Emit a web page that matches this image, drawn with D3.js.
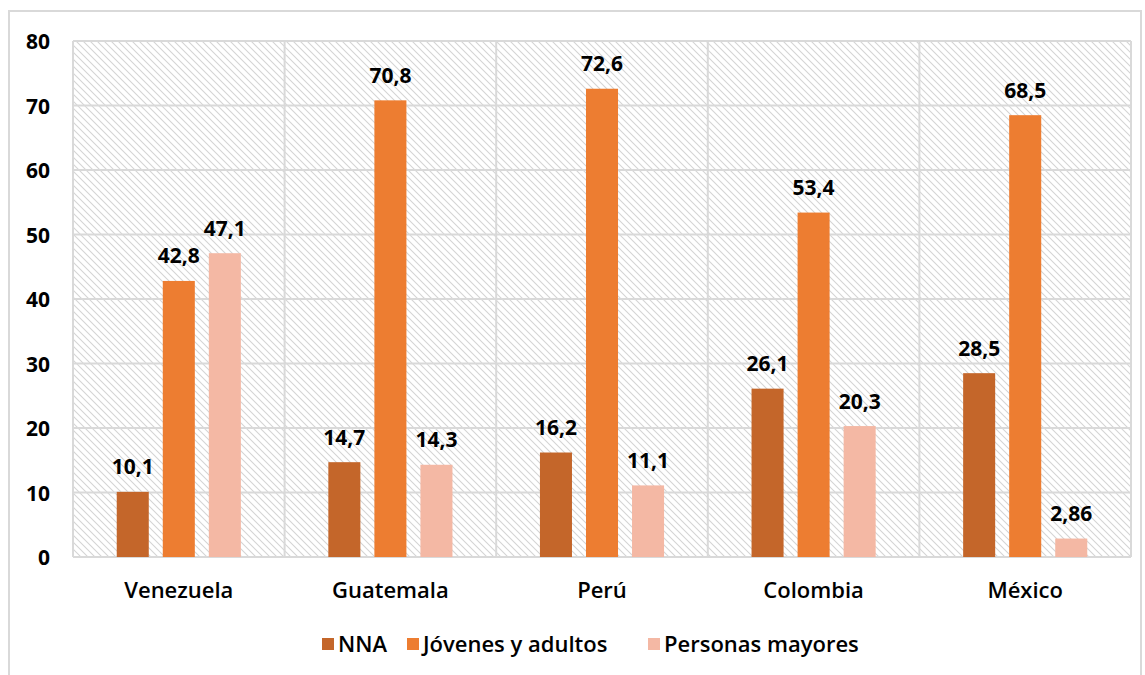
<!DOCTYPE html>
<html><head><meta charset="utf-8">
<script src="https://cdn.jsdelivr.net/npm/d3@7"></script>
<style>
body{margin:0;background:#fff;}
svg{display:block;font-family:"Open Sans", "Noto Sans", sans-serif;}
</style></head>
<body><svg id="c" width="1145" height="675"></svg>
<script>
const categories = ["Venezuela","Guatemala","Perú","Colombia","México"];
const seriesNames = ["NNA","Jóvenes y adultos","Personas mayores"];
const nna = [10.1,14.7,16.2,26.1,28.5];
const jovenes = [42.8,70.8,72.6,53.4,68.5];
const mayores = [47.1,14.3,11.1,20.3,2.86];
const labelsNNA = ["10,1","14,7","16,2","26,1","28,5"];
const labelsJov = ["42,8","70,8","72,6","53,4","68,5"];
const labelsMay = ["47,1","14,3","11,1","20,3","2,86"];
const yTicks = [0,10,20,30,40,50,60,70,80];
const colors = ["#C4662A","#ED7D31","#F4B8A4"];

const series = [nna, jovenes, mayores];
const labels = [labelsNNA, labelsJov, labelsMay];

const svg = d3.select("#c");
const m = {l:73, t:41, r:1131, b:557};

// outer frame
svg.append("rect").attr("x",9).attr("y",11).attr("width",1132).attr("height",700)
  .attr("fill","#fff").attr("stroke","#d9d9d9").attr("stroke-width",2);

// hatch pattern
const defs = svg.append("defs");
const P = 7;
const pat = defs.append("pattern").attr("id","hatch").attr("patternUnits","userSpaceOnUse")
  .attr("width",P).attr("height",P);
pat.append("rect").attr("width",P).attr("height",P).attr("fill","#fff");
pat.append("path").attr("d",`M-1,-1 L${P+1},${P+1} M-${P/2},${P/2} L${P/2},${P*1.5} M${P/2},-${P/2} L${P*1.5},${P/2}`)
  .attr("stroke","#d4d4d4").attr("stroke-width",1.05);

const x = d3.scaleBand().domain(categories).range([m.l,m.r]).padding(0);
const y = d3.scaleLinear().domain([0,80]).range([m.b,m.t]);
const inner = d3.scaleBand().domain(d3.range(3)).range([0,x.bandwidth()]).paddingInner(14/46).paddingOuter(0.95);

svg.append("rect").attr("x",m.l).attr("y",m.t).attr("width",m.r-m.l).attr("height",m.b-m.t).attr("fill","url(#hatch)");

// gridlines
svg.append("g").selectAll("line").data(yTicks).join("line")
  .attr("x1",m.l).attr("x2",m.r).attr("y1",d=>y(d)).attr("y2",d=>y(d))
  .attr("stroke","#d9d9d9").attr("stroke-width",2);
const vlines = categories.map(c=>x(c)).concat([m.r]);
svg.append("g").selectAll("line").data(vlines).join("line")
  .attr("x1",d=>d).attr("x2",d=>d).attr("y1",m.t).attr("y2",m.b)
  .attr("stroke","#d9d9d9").attr("stroke-width",2);

// y axis labels
const yAxis = d3.axisLeft(y).tickValues(yTicks).tickSize(0).tickPadding(0).tickFormat(d3.format("d"));
const ya = svg.append("g").attr("transform",`translate(50,0)`).call(yAxis);
ya.select(".domain").remove();
ya.selectAll("text").attr("font-size",21).attr("font-weight",700).attr("fill","#000")
  .attr("font-family","'Open Sans', sans-serif").attr("dy","0.36em");

// x axis labels
const xAxis = d3.axisBottom(x).tickSize(0).tickPadding(0);
const xa = svg.append("g").attr("transform",`translate(0,${m.b+41})`).call(xAxis);
xa.select(".domain").remove();
xa.selectAll("text").attr("font-size",22).attr("font-weight",600).attr("fill","#000")
  .attr("font-family","'Open Sans', sans-serif").attr("dy",0);

// bars
series.forEach((vals,si)=>{
  const g = svg.append("g");
  g.selectAll("rect").data(vals).join("rect")
    .attr("x",(d,i)=>x(categories[i])+inner(si))
    .attr("width",inner.bandwidth())
    .attr("y",d=>y(d)).attr("height",d=>y(0)-y(d))
    .attr("fill",colors[si]);
  g.selectAll("text").data(vals).join("text")
    .attr("x",(d,i)=>x(categories[i])+inner(si)+inner.bandwidth()/2)
    .attr("y",d=>y(d)-17.5)
    .attr("text-anchor","middle").attr("font-size",21).attr("font-weight",700).attr("fill","#000")
    .text((d,i)=>labels[si][i]);
});

// legend
const legX = [322,407,648];
const lg = svg.append("g");
seriesNames.forEach((n,i)=>{
  lg.append("rect").attr("x",legX[i]).attr("y",638).attr("width",12).attr("height",12).attr("fill",colors[i]);
  lg.append("text").attr("x",legX[i]+16).attr("y",651.5).attr("font-size",22).attr("font-weight",600)
    .attr("fill","#000").text(n);
});
</script></body></html>
